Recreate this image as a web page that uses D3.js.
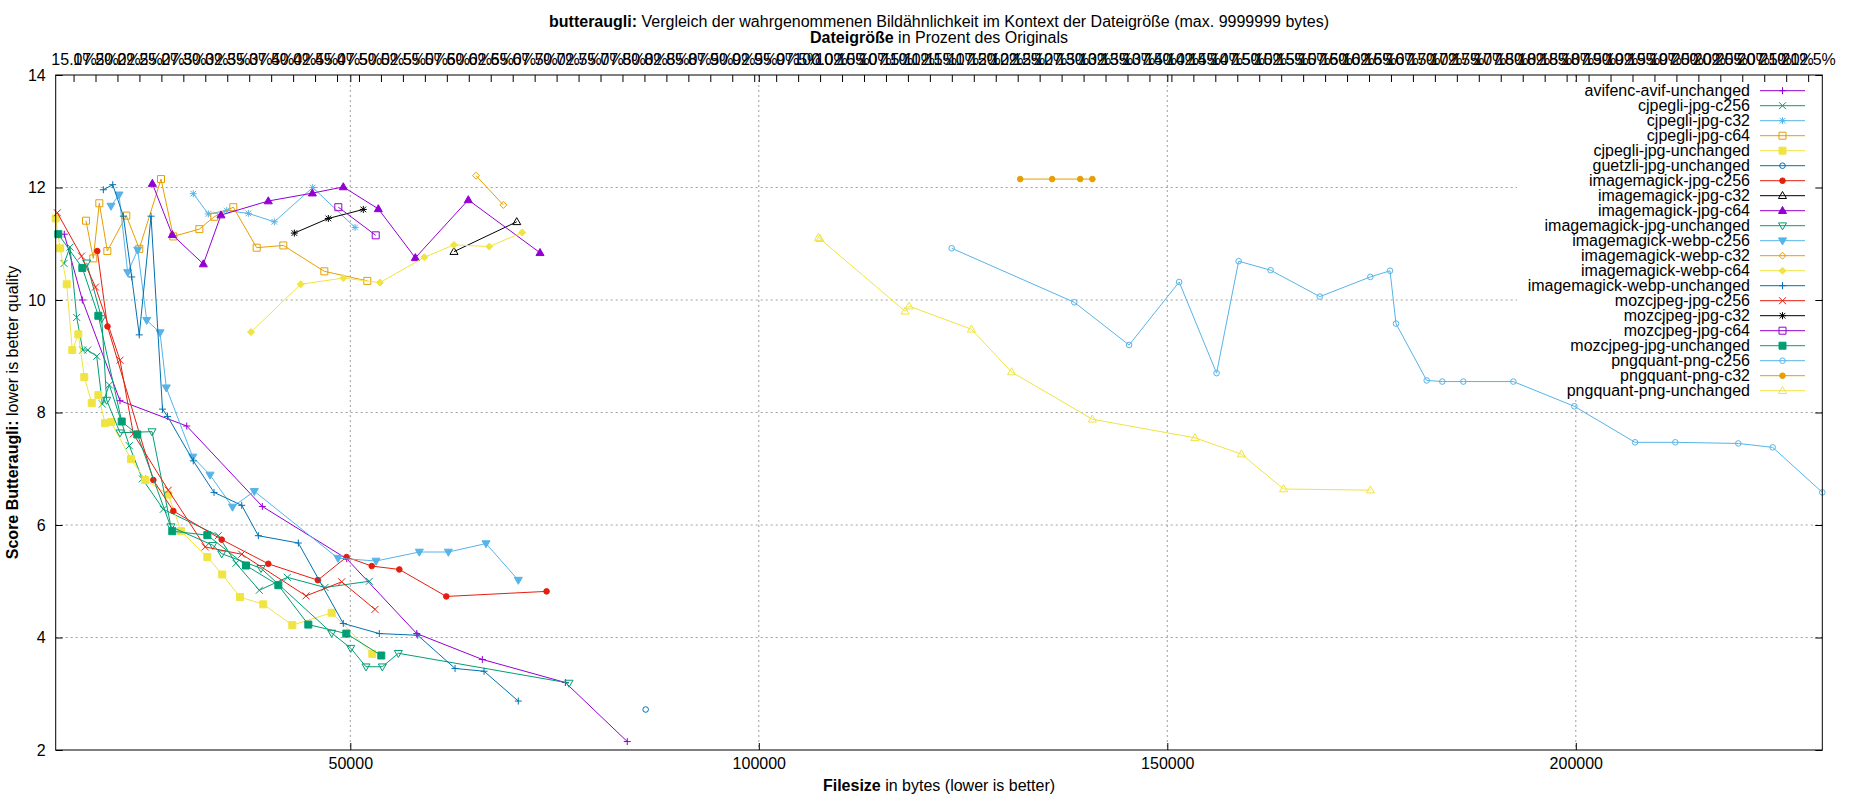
<!DOCTYPE html>
<html>
<head>
<meta charset="utf-8">
<script src="https://cdn.jsdelivr.net/npm/d3@7"></script>
<style>
  body { margin: 0; background: #fff; }
  svg { display: block; font-family: "Liberation Sans", Arial, sans-serif; }
</style>
</head>
<body>
<svg></svg>
<script>
// Series names as they appear in the key
const seriesNames = [
    "avifenc-avif-unchanged", "cjpegli-jpg-c256", "cjpegli-jpg-c32", "cjpegli-jpg-c64",
    "cjpegli-jpg-unchanged", "guetzli-jpg-unchanged", "imagemagick-jpg-c256", "imagemagick-jpg-c32",
    "imagemagick-jpg-c64", "imagemagick-jpg-unchanged", "imagemagick-webp-c256", "imagemagick-webp-c32",
    "imagemagick-webp-c64", "imagemagick-webp-unchanged", "mozcjpeg-jpg-c256", "mozcjpeg-jpg-c32",
    "mozcjpeg-jpg-c64", "mozcjpeg-jpg-unchanged", "pngquant-png-c256", "pngquant-png-c32",
    "pngquant-png-unchanged"
];

// [filesize in bytes, butteraugli score]
const avifencAvifUnchanged = [[14990,11.17],[17200,10.0],[21810,8.21],[29980,7.76],[39230,6.33],[49560,5.40],[58130,4.07],[66160,3.61],[76320,3.20],[83900,2.15]];
const cjpegliJpgC256 = [[14960,10.65],[15690,10.94],[16510,9.69],[17250,9.11],[17860,9.11],[18960,9.0],[19650,8.15],[20500,8.49],[22950,7.41],[24540,6.82],[27110,6.28],[33840,5.81],[36000,5.32],[38860,4.84],[42290,5.07],[46900,4.89],[52330,5.0]];
const cjpegliJpgC32 = [[30780,11.89],[32620,11.53],[34870,11.59],[37520,11.54],[40700,11.39],[45400,12.0],[50580,11.29]];
const cjpegliJpgC64 = [[17650,11.41],[18540,10.74],[19280,11.72],[20260,10.87],[22580,11.50],[24170,10.91],[26830,12.15],[28340,11.13],[31520,11.26],[33350,11.48],[35680,11.65],[38540,10.93],[41800,10.97],[46820,10.51],[52080,10.34]];
const cjpegliJpgUnchanged = [[13940,11.45],[14470,10.92],[15290,10.28],[15970,9.11],[16710,9.39],[17440,8.63],[18350,8.17],[19160,8.31],[19980,7.81],[20710,7.83],[23160,7.17],[24910,6.80],[27720,6.54],[29280,5.89],[32500,5.43],[34330,5.12],[36500,4.72],[39350,4.59],[42900,4.22],[47720,4.44],[52690,3.71]];
const guetzliJpgUnchanged = [[86150,2.72]];
const imagemagickJpgC256 = [[19030,10.87],[20280,9.53],[25890,6.80],[28340,6.25],[34260,5.74],[39960,5.31],[46020,5.02],[49540,5.43],[52620,5.27],[56000,5.21],[61750,4.73],[74020,4.82]];
const imagemagickJpgC32 = [[62690,10.86],[70370,11.39]];
const imagemagickJpgC64 = [[25770,12.07],[28210,11.16],[32010,10.64],[34170,11.51],[39960,11.76],[45350,11.90],[49140,12.01],[53430,11.62],[57960,10.75],[64440,11.78],[73220,10.84]];
const imagemagickJpgUnchanged = [[17740,10.66],[19570,9.67],[20180,8.22],[21810,7.64],[25730,7.66],[28050,5.97],[33160,5.64],[34260,5.49],[39070,5.23],[47720,4.08],[50050,3.81],[51920,3.48],[53920,3.48],[55880,3.72],[76770,3.19]];
const imagemagickWebpC256 = [[20710,11.67],[21690,11.87],[22750,10.49],[23980,10.89],[25080,9.64],[26710,9.42],[27480,8.44],[30710,7.21],[32830,6.89],[35580,6.32],[38250,6.60],[48490,5.41],[53150,5.36],[58450,5.52],[62000,5.52],[66610,5.67],[70560,5.02]];
const imagemagickWebpC32 = [[65390,12.21],[68730,11.69]];
const imagemagickWebpC64 = [[37850,9.43],[43930,10.28],[49140,10.39],[53640,10.31],[59060,10.76],[62690,10.98],[67010,10.95],[71050,11.20]];
const imagemagickWebpUnchanged = [[19770,11.96],[20920,12.05],[22220,11.49],[23240,10.41],[24170,9.38],[25610,11.49],[27010,8.06],[27630,7.93],[30780,7.14],[33320,6.58],[36710,6.35],[38740,5.81],[43640,5.68],[49140,4.25],[53550,4.07],[58250,4.04],[62820,3.45],[66370,3.40],[70560,2.87]];
const mozcjpegJpgC256 = [[14140,11.55],[17100,10.78],[18810,10.23],[21810,8.93],[23440,7.62],[27720,6.62],[32250,5.61],[36710,5.48],[44580,4.74],[48950,4.99],[53020,4.50]];
const mozcjpegJpgC32 = [[43150,11.19],[47310,11.45],[51590,11.61]];
const mozcjpegJpgC64 = [[48530,11.65],[53110,11.15]];
const mozcjpegJpgUnchanged = [[14260,11.17],[17200,10.57],[19160,9.72],[22020,7.84],[23930,7.61],[28210,5.89],[32500,5.82],[37230,5.28],[41190,4.93],[44860,4.23],[49510,4.07],[53790,3.68]];
const pngquantPngC256 = [[123610,10.92],[138610,9.96],[145320,9.20],[151450,10.32],[156030,8.70],[158730,10.69],[162640,10.53],[168670,10.06],[174850,10.41],[177260,10.52],[177990,9.58],[181750,8.57],[183660,8.55],[186230,8.55],[192350,8.55],[199820,8.11],[207250,7.47],[212180,7.47],[219890,7.45],[224100,7.38],[230170,6.58]];
const pngquantPngC32 = [[132000,12.15],[135910,12.15],[139340,12.15],[140830,12.15]];
const pngquantPngUnchanged = [[107300,11.11],[107480,11.09],[117910,9.80],[118400,9.89],[126020,9.48],[130940,8.72],[140830,7.88],[153380,7.55],[159070,7.26],[164230,6.64],[174850,6.62]];

const seriesData = [
    avifencAvifUnchanged, cjpegliJpgC256, cjpegliJpgC32, cjpegliJpgC64, cjpegliJpgUnchanged,
    guetzliJpgUnchanged, imagemagickJpgC256, imagemagickJpgC32, imagemagickJpgC64, imagemagickJpgUnchanged,
    imagemagickWebpC256, imagemagickWebpC32, imagemagickWebpC64, imagemagickWebpUnchanged,
    mozcjpegJpgC256, mozcjpegJpgC32, mozcjpegJpgC64, mozcjpegJpgUnchanged,
    pngquantPngC256, pngquantPngC32, pngquantPngUnchanged
];

// Axis ticks
const yTicks = [2, 4, 6, 8, 10, 12, 14];
const xTicks = [50000, 100000, 150000, 200000];
const originalBytes = 107500;   // 100 % on the top axis
const pctTickStep = 2.5;

// gnuplot default line colours (cycle of 8) and point types (cycle of 13)
const lineColors = ["#9400d3", "#009e73", "#56b4e9", "#e69f00", "#f0e442", "#0072b2", "#e51e10", "#000000"];

const svgWidth = 1850, svgHeight = 800;
const plot = { left: 55.7, right: 1822.3, top: 75, bottom: 750 };

const svg = d3.select("svg")
    .attr("width", svgWidth)
    .attr("height", svgHeight);

// Scales
const allPoints = seriesData.flat();
const xScale = d3.scaleLinear()
    .domain(d3.extent(allPoints, d => d[0]))
    .range([plot.left, plot.right]);
const yScale = d3.scaleLinear()
    .domain([2, 14])
    .range([plot.bottom, plot.top]);
const x2Scale = d3.scaleLinear()
    .domain(xScale.domain().map(b => b / originalBytes * 100))
    .range([plot.left, plot.right]);
const pctTicks = d3.range(Math.ceil(x2Scale.domain()[0] / pctTickStep) * pctTickStep, x2Scale.domain()[1], pctTickStep);

// Grid
const grid = svg.append("g")
    .attr("stroke", "#a0a0a0")
    .attr("stroke-width", 1)
    .attr("stroke-dasharray", "2,3");
yTicks.filter(t => t > 2 && t < 14).forEach(t => {
    grid.append("line")
        .attr("x1", plot.left).attr("x2", plot.right)
        .attr("y1", yScale(t)).attr("y2", yScale(t));
});
xTicks.forEach(t => {
    grid.append("line")
        .attr("x1", xScale(t)).attr("x2", xScale(t))
        .attr("y1", plot.top).attr("y2", plot.bottom);
});

// Key background hides the grid only
const keyRight = 1750, keyTop = 90.7, keyStep = 15;
svg.append("rect")
    .attr("x", 1517).attr("y", 82)
    .attr("width", plot.right - 1517 - 1).attr("height", 316)
    .attr("fill", "#fff");

// Point symbols
function drawPoint(g, pt, cx, cy, color) {
    const h = 3.5;
    const s = g.append("g").attr("transform", `translate(${cx},${cy})`);
    const open = (d) => s.append("path").attr("d", d).attr("fill", "none").attr("stroke", color).attr("stroke-width", 1);
    const filled = (d) => s.append("path").attr("d", d).attr("fill", color).attr("stroke", color).attr("stroke-width", 1);
    const tu = `M0,${-h * 1.2}L${h * 1.15},${h * 0.8}L${-h * 1.15},${h * 0.8}Z`;
    const td = `M0,${h * 1.2}L${h * 1.15},${-h * 0.8}L${-h * 1.15},${-h * 0.8}Z`;
    const box = `M${-h},${-h}H${h}V${h}H${-h}Z`;
    const dia = `M0,${-h}L${h},0L0,${h}L${-h},0Z`;
    switch (pt) {
        case 0: open(`M${-h},0H${h}M0,${-h}V${h}`); break;
        case 1: open(`M${-h},${-h}L${h},${h}M${-h},${h}L${h},${-h}`); break;
        case 2: open(`M${-h},0H${h}M0,${-h}V${h}M${-h * 0.8},${-h * 0.8}L${h * 0.8},${h * 0.8}M${-h * 0.8},${h * 0.8}L${h * 0.8},${-h * 0.8}`); break;
        case 3: open(box); break;
        case 4: filled(box); break;
        case 5: s.append("circle").attr("r", 2.8).attr("fill", "none").attr("stroke", color); break;
        case 6: s.append("circle").attr("r", 2.8).attr("fill", color).attr("stroke", color); break;
        case 7: open(tu); break;
        case 8: filled(tu); break;
        case 9: open(td); break;
        case 10: filled(td); break;
        case 11: open(dia); break;
        case 12: filled(dia); break;
    }
}

// Data lines and points
const line = d3.line().x(d => xScale(d[0])).y(d => yScale(d[1]));
const dataLayer = svg.append("g");
seriesData.forEach((data, i) => {
    const color = lineColors[i % 8];
    const pt = i % 13;
    const g = dataLayer.append("g");
    g.append("path")
        .attr("d", line(data))
        .attr("fill", "none")
        .attr("stroke", color)
        .attr("stroke-width", 1);
    data.forEach(d => drawPoint(g, pt, xScale(d[0]), yScale(d[1]), color));
});

// Key entries
const key = svg.append("g");
seriesNames.forEach((name, i) => {
    const color = lineColors[i % 8];
    const cy = keyTop + i * keyStep;
    key.append("text")
        .attr("x", keyRight)
        .attr("y", cy + 5.5)
        .attr("text-anchor", "end")
        .style("font-size", "16px")
        .text(name);
    key.append("line")
        .attr("x1", 1760).attr("x2", 1805)
        .attr("y1", cy).attr("y2", cy)
        .attr("stroke", color).attr("stroke-width", 1);
    drawPoint(key, i % 13, 1782.5, cy, color);
});

// Axes (ticks pointing inwards, as gnuplot draws them)
function styleAxis(g) {
    g.select(".domain").remove();
    g.selectAll(".tick line").attr("stroke", "#000");
    g.selectAll(".tick text").style("font-size", "16px").attr("fill", "#000")
        .style("font-family", "'Liberation Sans', Arial, sans-serif");
}

svg.append("g")
    .attr("transform", `translate(0,${plot.bottom})`)
    .call(d3.axisBottom(xScale).tickValues(xTicks).tickSizeInner(-7).tickSizeOuter(0).tickPadding(8).tickFormat(d3.format("d")))
    .call(styleAxis);

svg.append("g")
    .attr("transform", `translate(0,${plot.top})`)
    .call(d3.axisTop(xScale).tickValues(xTicks).tickSizeInner(-7).tickSizeOuter(0).tickFormat(() => ""))
    .call(styleAxis);

svg.append("g")
    .attr("transform", `translate(0,${plot.top})`)
    .call(d3.axisTop(x2Scale).tickValues(pctTicks).tickSizeInner(-7).tickSizeOuter(0).tickPadding(10).tickFormat(d => d.toFixed(1) + "%"))
    .call(styleAxis);

svg.append("g")
    .attr("transform", `translate(${plot.left},0)`)
    .call(d3.axisLeft(yScale).tickValues(yTicks).tickSizeInner(-7).tickSizeOuter(0).tickPadding(10))
    .call(styleAxis);

svg.append("g")
    .attr("transform", `translate(${plot.right},0)`)
    .call(d3.axisRight(yScale).tickValues(yTicks).tickSizeInner(-7).tickSizeOuter(0).tickFormat(() => ""))
    .call(styleAxis);

// Border
svg.append("rect")
    .attr("x", plot.left).attr("y", plot.top)
    .attr("width", plot.right - plot.left).attr("height", plot.bottom - plot.top)
    .attr("fill", "none").attr("stroke", "#000").attr("stroke-width", 1);

// Titles and labels
const cx = (plot.left + plot.right) / 2;
function richText(x, y, boldPart, rest, transform) {
    const t = svg.append("text")
        .attr("x", x).attr("y", y)
        .attr("text-anchor", "middle")
        .style("font-size", "16px");
    if (transform) t.attr("transform", transform);
    t.append("tspan").style("font-weight", "bold").text(boldPart);
    t.append("tspan").text(rest);
    return t;
}
richText(cx, 27, "butteraugli:", " Vergleich der wahrgenommenen Bildähnlichkeit im Kontext der Dateigröße (max. 9999999 bytes)");
richText(cx, 43, "Dateigröße", " in Prozent des Originals");
richText(cx, 791, "Filesize", " in bytes (lower is better)");
richText(0, 0, "Score Butteraugli:", " lower is better quality", `translate(18,${(plot.top + plot.bottom) / 2}) rotate(-90)`);
</script>
</body>
</html>
